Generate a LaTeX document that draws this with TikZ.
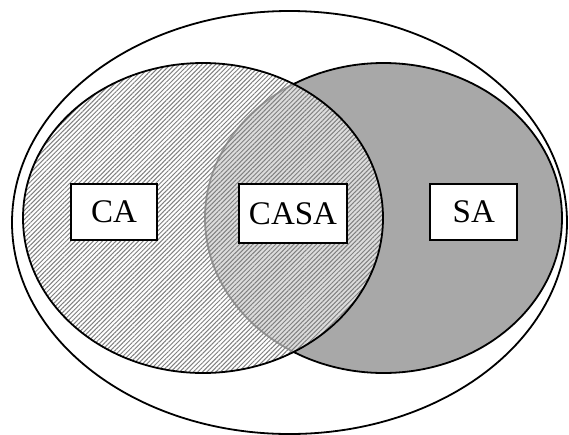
\documentclass[tikz,border=0pt]{standalone}
\usepackage{fontspec}
\setmainfont{Liberation Serif}
\usetikzlibrary{patterns.meta}
\begin{document}
\begin{tikzpicture}[x=1pt,y=-1pt,
  outline/.style={draw=black, line width=1.8pt},
  lbl/.style={draw=black, line width=2pt, fill=white, inner sep=0pt,
    font=\fontsize{33}{37}\selectfont},
]
\useasboundingbox (0,0) rectangle (569,434);
\fill[white] (0,0) rectangle (569,434);
% outer ellipse
\draw[outline] (289.5,222.5) ellipse [x radius=277.5, y radius=211.5];
% right ellipse (SA)
\filldraw[fill=black!34, draw=black, line width=1.8pt]
  (383.5,218) ellipse [x radius=178.5, y radius=155];
% left ellipse (CA), semi-transparent over SA
\fill[white, fill opacity=0.6] (203,218) ellipse [x radius=180, y radius=155];
\fill[pattern={Lines[angle=45,distance=3.2pt,line width=1pt]}, pattern color=black!50]
  (203,218) ellipse [x radius=180, y radius=155];
\draw[outline] (203,218) ellipse [x radius=180, y radius=155];
% labels
\node[lbl, minimum width=86pt, minimum height=56pt] (ca) at (114,212) {CA};
\node[lbl, minimum width=108pt, minimum height=59pt] (casa) at (293,213.5) {CASA};
\node[lbl, minimum width=87pt, minimum height=56pt] (sa) at (473.8,211.7) {SA};
\end{tikzpicture}
\end{document}
